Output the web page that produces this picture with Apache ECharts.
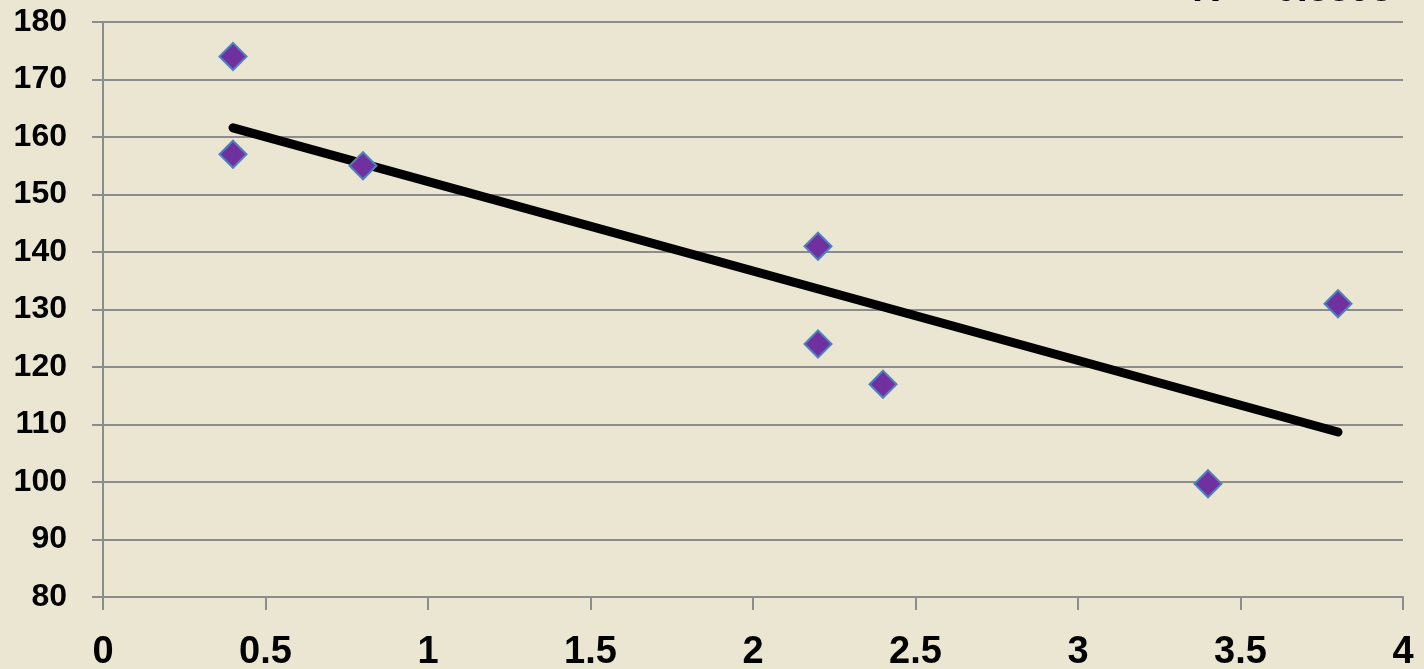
<!DOCTYPE html>
<html>
<head>
<meta charset="utf-8">
<script src="https://cdn.jsdelivr.net/npm/echarts@6/dist/echarts.min.js"></script>
<style>
html,body{margin:0;padding:0;background:#EAE6D2;}
#chart{width:1424px;height:669px;}
</style>
</head>
<body>
<div id="chart"></div>
<script>
var xValues = [0.4, 0.4, 0.8, 2.2, 2.2, 2.4, 3.4, 3.8];
var yValues = [174, 157, 155, 141, 124, 117, 99.7, 131];
var trendX = [0.4, 3.8];
var trendY = [161.6, 108.7];
var rSquaredLabel = 'R² = 0.5593';

var points = xValues.map(function (x, i) { return [x, yValues[i]]; });
var trend = trendX.map(function (x, i) { return [x, trendY[i]]; });

var chart = echarts.init(document.getElementById('chart'));
var font = '"Liberation Sans", Arial, sans-serif';
chart.setOption({
  backgroundColor: '#EAE6D2',
  animation: false,
  grid: { left: 103, right: 21, top: 22, bottom: 72, containLabel: false, outerBoundsMode: 'none' },
  xAxis: {
    type: 'value', min: 0, max: 4, interval: 0.5,
    axisLine: { show: true, onZero: false, lineStyle: { color: '#8C8C8C', width: 2 } },
    axisTick: { show: true, length: 13, lineStyle: { color: '#8C8C8C', width: 2 } },
    splitLine: { show: false },
    axisLabel: { color: '#000', fontSize: 38, fontWeight: 'bold', fontFamily: font, margin: 37 }
  },
  yAxis: {
    type: 'value', min: 80, max: 180, interval: 10,
    axisLine: { show: true, onZero: false, lineStyle: { color: '#8C8C8C', width: 2 } },
    axisTick: { show: true, length: 11, lineStyle: { color: '#8C8C8C', width: 2 } },
    splitLine: { show: true, lineStyle: { color: '#8C8C8C', width: 2 } },
    axisLabel: { color: '#000', fontSize: 32, fontWeight: 'bold', fontFamily: font, margin: 36 }
  },
  series: [
    {
      type: 'line', data: trend, symbol: 'none', silent: true, z: 3,
      lineStyle: { color: '#000', width: 9, cap: 'round' }
    },
    {
      type: 'scatter', data: points, symbol: 'diamond', symbolSize: 27, z: 4,
      itemStyle: { color: '#7030A0', borderColor: '#4F81BD', borderWidth: 2, opacity: 1 }
    }
  ],
  graphic: [{
    type: 'text', x: 1392, y: -28, z: 10,
    style: { text: rSquaredLabel, fill: '#000', font: 'bold 38px ' + font, align: 'right', verticalAlign: 'top' }
  }]
});
</script>
</body>
</html>
